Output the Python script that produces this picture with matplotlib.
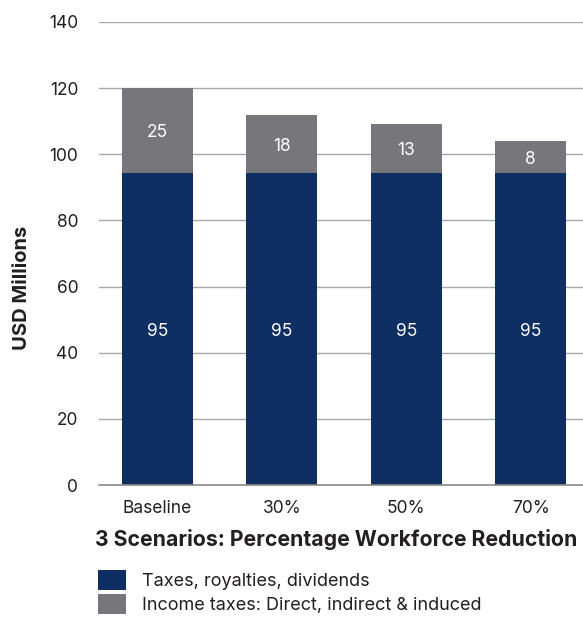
import matplotlib
matplotlib.use("Agg")
import matplotlib.pyplot as plt
from matplotlib.patches import Patch
import numpy as np

plt.rcParams['font.family'] = ['Inter', 'DejaVu Sans']

categories = ["Baseline", "30%", "50%", "70%"]
navy_vals = [94.3, 94.3, 94.3, 94.3]
grey_vals = [25.7, 17.5, 14.8, 9.6]
navy_labels = ["95", "95", "95", "95"]
grey_labels = ["25", "18", "13", "8"]
yticks = [0, 20, 40, 60, 80, 100, 120, 140]
legend_labels = ["Taxes, royalties, dividends", "Income taxes: Direct, indirect & induced"]

NAVY = "#0f2f63"
GREY = "#77777b"
TXT = "#231f20"

fig = plt.figure(figsize=(5.83, 6.19), dpi=100)
ax = fig.add_axes([99/583, 1-485/619, 484/583, 463/619])

x = np.arange(len(categories))
w = 0.57
ax.bar(x, navy_vals, width=w, color=NAVY, zorder=3)
ax.bar(x, grey_vals, width=w, bottom=navy_vals, color=GREY, zorder=3)

for xi, n, g, nl, gl in zip(x, navy_vals, grey_vals, navy_labels, grey_labels):
    ax.text(xi, n/2 - 0.8, nl, ha='center', va='center', color='white', fontsize=12.5, zorder=4)
    ax.text(xi, n + g/2 - 0.6, gl, ha='center', va='center', color='white', fontsize=12.5, zorder=4)

ax.set_xlim(-0.47, 3.42)
ax.set_ylim(0, 140)
ax.set_yticks(yticks)
ax.set_yticklabels([str(v) for v in yticks])
ax.set_xticks(x)
ax.set_xticklabels(categories)
ax.tick_params(axis='both', length=0, labelsize=12.5, labelcolor=TXT)
ax.tick_params(axis='y', pad=15)
ax.tick_params(axis='x', pad=11)
for s in ['top', 'right', 'left']:
    ax.spines[s].set_visible(False)
ax.spines['bottom'].set_color('#8a8a8a')
ax.spines['bottom'].set_linewidth(1.2)
ax.spines['bottom'].set_zorder(5)
ax.yaxis.grid(True, color='#a8a8a8', linewidth=1.0, zorder=0)
ax.set_axisbelow(True)

fig.text(336/583, 1-540/619, "3 Scenarios: Percentage Workforce Reduction",
         ha='center', va='center', fontsize=15.3, fontweight='bold', color=TXT)
fig.text(22/583, 1-288/619, "USD Millions", rotation=90, ha='center', va='center',
         fontsize=14.5, fontweight='bold', color=TXT)

handles = [Patch(facecolor=NAVY, edgecolor='none'), Patch(facecolor=GREY, edgecolor='none')]
leg = fig.legend(handles, legend_labels, loc='upper left',
                 bbox_to_anchor=(93/583, 1-565/619), frameon=False, fontsize=13,
                 handlelength=1.55, handleheight=1.3, handletextpad=0.85,
                 labelspacing=0.2, borderaxespad=0, borderpad=0.3)
for t in leg.get_texts():
    t.set_color(TXT)

fig.savefig("out.png", dpi=100)
